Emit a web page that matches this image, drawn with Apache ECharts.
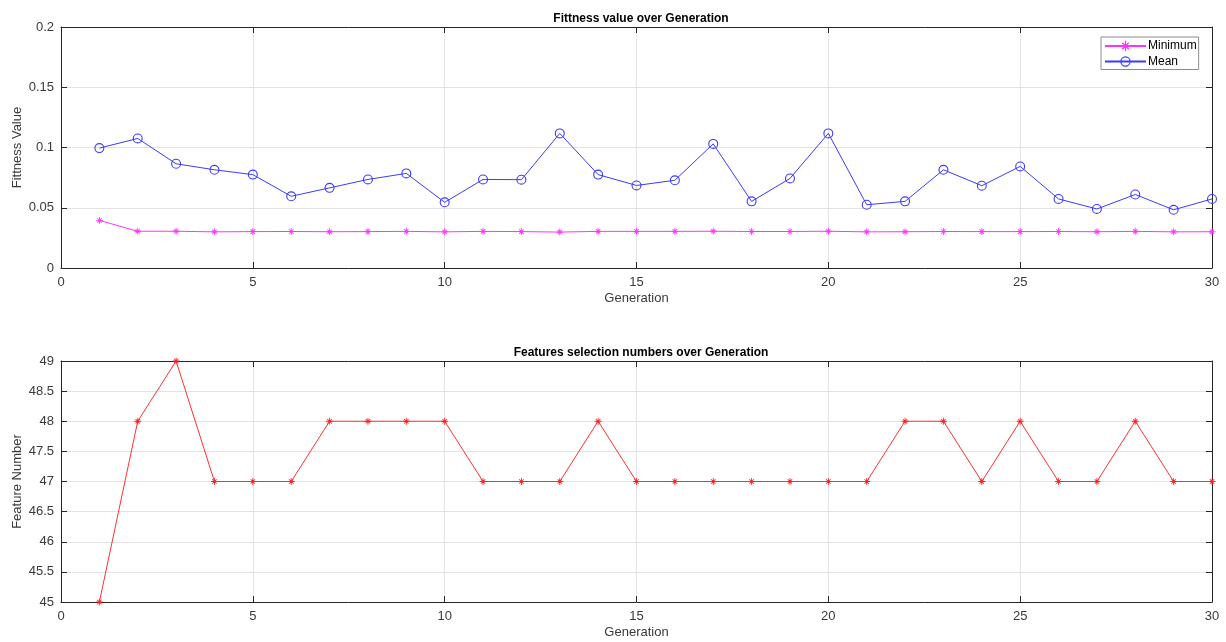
<!DOCTYPE html>
<html>
<head>
<meta charset="utf-8">
<title>Fitness and feature selection over generations</title>
<script src="https://cdn.jsdelivr.net/npm/echarts@6/dist/echarts.min.js"></script>
<style>
  html, body { margin: 0; padding: 0; background: #ffffff; }
  #chart { width: 1226px; height: 642px; }
</style>
</head>
<body>
<div id="chart"></div>
<script>
// Generation index
const generations = [1, 2, 3, 4, 5, 6, 7, 8, 9, 10, 11, 12, 13, 14, 15,
                     16, 17, 18, 19, 20, 21, 22, 23, 24, 25, 26, 27, 28, 29, 30];

// Minimum fitness per generation
const minimumFitness = [0.0395, 0.0305, 0.0305, 0.0300, 0.0302, 0.0303, 0.0301, 0.0302, 0.0304, 0.0300,
                        0.0304, 0.0302, 0.0298, 0.0304, 0.0304, 0.0304, 0.0305, 0.0303, 0.0303, 0.0305,
                        0.0300, 0.0301, 0.0303, 0.0302, 0.0302, 0.0303, 0.0301, 0.0304, 0.0300, 0.0301];

// Mean fitness per generation
const meanFitness = [0.0995, 0.1075, 0.0865, 0.0815, 0.0775, 0.0595, 0.0665, 0.0735, 0.0785, 0.0545,
                     0.0735, 0.0733, 0.1117, 0.0775, 0.0685, 0.0728, 0.1030, 0.0553, 0.0743, 0.1117,
                     0.0525, 0.0553, 0.0815, 0.0683, 0.0843, 0.0573, 0.0490, 0.0610, 0.0483, 0.0573];

// Number of selected features per generation
const featureCounts = [45, 48, 49, 47, 47, 47, 48, 48, 48, 48, 47, 47, 47, 48, 47,
                       47, 47, 47, 47, 47, 47, 48, 48, 47, 48, 47, 47, 48, 47, 47];

// Axis settings
const xRange = { min: 0, max: 30, interval: 5 };
const fitnessRange = { min: 0, max: 0.2, interval: 0.05 };
const featureRange = { min: 45, max: 49, interval: 0.5 };

const titles = ['Fittness value over Generation', 'Features selection numbers over Generation'];
const xName = 'Generation';
const yNames = ['Fittness Value', 'Feature Number'];
const legendNames = ['Minimum', 'Mean'];

// Asterisk marker: plus and cross made of thin bars, all wound the same way
const ASTERISK = 'path://M0 4.4L10 4.4L10 5.6L0 5.6Z M4.4 0L5.6 0L5.6 10L4.4 10Z ' +
  'M1.4 2.3L2.3 1.4L8.6 7.7L7.7 8.6Z M7.7 1.4L8.6 2.3L2.3 8.6L1.4 7.7Z';
// Open circle marker: thin ring, inner contour wound the other way to leave a hole
const RING = 'path://M5 0A5 5 0 1 1 5 10A5 5 0 1 1 5 0Z M5 1.1A3.9 3.9 0 1 0 5 8.9A3.9 3.9 0 1 0 5 1.1Z';

const pairs = (xs, ys) => xs.map((x, i) => [x, ys[i]]);

const FONT = 'Liberation Sans, Arial, sans-serif';
const AXIS_COLOR = '#262626';
const LABEL_COLOR = '#3a3a3a';
const GRID_COLOR = '#e3e3e3';

// Plot areas (left, right, top, height) for the two stacked panels
const panels = [
  { left: 61, right: 14, top: 27, height: 241 },
  { left: 61, right: 14, top: 361, height: 241 }
];

function bottomXAxis(gridIndex) {
  return {
    type: 'value', gridIndex, position: 'bottom',
    min: xRange.min, max: xRange.max, interval: xRange.interval,
    name: xName, nameLocation: 'middle', nameGap: 24,
    nameTextStyle: { fontFamily: FONT, fontSize: 13, color: LABEL_COLOR },
    axisLine: { onZero: false, lineStyle: { color: AXIS_COLOR, width: 1 } },
    axisTick: { inside: true, length: 6, lineStyle: { color: AXIS_COLOR } },
    axisLabel: { fontFamily: FONT, fontSize: 13, color: LABEL_COLOR, margin: 8 },
    splitLine: { show: true, lineStyle: { color: GRID_COLOR, width: 1 } }
  };
}
function topXAxis(gridIndex) {
  return {
    type: 'value', gridIndex, position: 'top',
    min: xRange.min, max: xRange.max, interval: xRange.interval,
    axisLine: { onZero: false, lineStyle: { color: AXIS_COLOR, width: 1 } },
    axisTick: { inside: true, length: 6, lineStyle: { color: AXIS_COLOR } },
    axisLabel: { show: false },
    splitLine: { show: false }
  };
}
function leftYAxis(gridIndex, range) {
  return {
    type: 'value', gridIndex, position: 'left',
    min: range.min, max: range.max, interval: range.interval,
    axisLine: { show: true, onZero: false, lineStyle: { color: AXIS_COLOR, width: 1 } },
    axisTick: { show: true, inside: true, length: 6, lineStyle: { color: AXIS_COLOR } },
    axisLabel: { fontFamily: FONT, fontSize: 13, color: LABEL_COLOR, margin: 7 },
    splitLine: { show: true, lineStyle: { color: GRID_COLOR, width: 1 } }
  };
}
function rightYAxis(gridIndex, range) {
  return {
    type: 'value', gridIndex, position: 'right',
    min: range.min, max: range.max, interval: range.interval,
    axisLine: { show: true, onZero: false, lineStyle: { color: AXIS_COLOR, width: 1 } },
    axisTick: { show: true, inside: true, length: 6, lineStyle: { color: AXIS_COLOR } },
    axisLabel: { show: false },
    splitLine: { show: false }
  };
}
// Vertical y-axis title, centred on its panel
function yTitle(panelIndex, text) {
  const p = panels[panelIndex];
  return {
    type: 'text',
    x: 17.5, y: p.top + p.height / 2,
    rotation: Math.PI / 2,
    style: {
      text, fill: LABEL_COLOR,
      font: '13px ' + FONT,
      textAlign: 'center', textVerticalAlign: 'middle'
    }
  };
}

const chart = echarts.init(document.getElementById('chart'), null, { renderer: 'canvas' });

chart.setOption({
  animation: false,
  backgroundColor: '#ffffff',
  title: [
    { text: titles[0], left: 636, top: 8, textAlign: 'center',
      textStyle: { fontFamily: FONT, fontSize: 12, fontWeight: 'bold', color: '#000000' } },
    { text: titles[1], left: 636, top: 342, textAlign: 'center',
      textStyle: { fontFamily: FONT, fontSize: 12, fontWeight: 'bold', color: '#000000' } }
  ],
  legend: {
    data: legendNames,
    orient: 'vertical',
    left: 1101, top: 37,
    padding: [3, 2, 2, 3],
    itemGap: 3.5,
    itemWidth: 41, itemHeight: 13,
    backgroundColor: '#ffffff',
    borderColor: '#8c8c8c',
    borderWidth: 1,
    textStyle: { fontFamily: FONT, fontSize: 12, color: '#000000', padding: [0, 0, 0, -3] }
  },
  grid: panels.map(p => Object.assign({ show: false, outerBoundsMode: 'none' }, p)),
  xAxis: [bottomXAxis(0), bottomXAxis(1), topXAxis(0), topXAxis(1)],
  yAxis: [
    leftYAxis(0, fitnessRange),
    leftYAxis(1, featureRange),
    rightYAxis(0, fitnessRange),
    rightYAxis(1, featureRange)
  ],
  graphic: [yTitle(0, yNames[0]), yTitle(1, yNames[1])],
  series: [
    {
      name: legendNames[0], type: 'line', xAxisIndex: 0, yAxisIndex: 0,
      data: pairs(generations, minimumFitness),
      symbol: ASTERISK, symbolSize: 7, clip: false,
      lineStyle: { color: '#ff33ff', width: 1 },
      itemStyle: { color: '#ff33ff' }
    },
    {
      name: legendNames[1], type: 'line', xAxisIndex: 0, yAxisIndex: 0,
      data: pairs(generations, meanFitness),
      symbol: RING, symbolSize: 10, clip: false,
      lineStyle: { color: '#3b3bff', width: 1 },
      itemStyle: { color: '#3b3bff' }
    },
    {
      name: 'Features', type: 'line', xAxisIndex: 1, yAxisIndex: 1,
      data: pairs(generations, featureCounts),
      symbol: ASTERISK, symbolSize: 7, clip: false,
      lineStyle: { color: '#ff3030', width: 1 },
      itemStyle: { color: '#ff2020' }
    }
  ]
});
</script>
</body>
</html>
